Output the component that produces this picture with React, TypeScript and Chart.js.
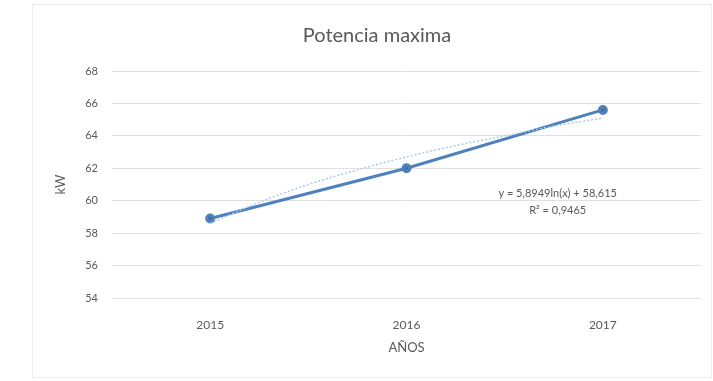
import React, { useEffect, useRef } from "react";
import { Chart, registerables } from "chart.js";

Chart.register(...registerables);

const years = ["2015", "2016", "2017"];
const yearPos = [1, 2, 3];
const potencia = [58.9, 62.0, 65.6];
const trendX = [1, 1.25, 1.5, 1.75, 2, 2.25, 2.5, 2.75, 3];
const trendY = [58.6, 59.9, 61.0, 61.9, 62.7, 63.4, 64.0, 64.6, 65.1];
const equationLines = ["y = 5,8949ln(x) + 58,615", "R² = 0,9465"];
const yMin = 54;
const yMax = 68;
const yStep = 2;

const FONT = "Lato, 'Open Sans', sans-serif";
const TEXT = "#595959";

const frame = {
  id: "frame",
  beforeDraw(chart: any) {
    const ctx = chart.ctx;
    ctx.save();
    ctx.fillStyle = "#ffffff";
    ctx.fillRect(0, 0, chart.width, chart.height);
    ctx.strokeStyle = "#ececec";
    ctx.lineWidth = 1;
    ctx.strokeRect(32.5, 4.5, chart.width - 34, chart.height - 8);
    ctx.restore();
  },
  afterDatasetsDraw(chart: any) {
    const ctx = chart.ctx;
    const xs = chart.scales.x;
    const ys = chart.scales.y;
    ctx.save();
    ctx.fillStyle = TEXT;
    ctx.font = `11px ${FONT}`;
    ctx.textAlign = "center";
    ctx.textBaseline = "middle";
    const cx = xs.getPixelForValue(2.77);
    ctx.fillText(equationLines[0], cx, ys.getPixelForValue(60.45));
    ctx.fillText(equationLines[1], cx, ys.getPixelForValue(59.4));
    ctx.restore();
  },
};

export default function App() {
  const ref = useRef<HTMLCanvasElement>(null);
  useEffect(() => {
    document.body.style.margin = "0";
    const chart = new Chart(ref.current!, {
      type: "line",
      data: {
        datasets: [
          {
            label: "Potencia",
            data: yearPos.map((x, i) => ({ x, y: potencia[i] })),
            borderColor: "#4f81bd",
            backgroundColor: "#46739f",
            borderWidth: 3,
            pointRadius: 3.5,
            pointHoverRadius: 3.5,
            order: 2,
          },
          {
            label: "Tendencia",
            data: trendX.map((x, i) => ({ x, y: trendY[i] })),
            borderColor: "#a9cbe8",
            borderWidth: 1.5,
            borderDash: [2, 2],
            pointRadius: 0,
            cubicInterpolationMode: "monotone",
            order: 1,
          },
        ],
      },
      options: {
        animation: false,
        responsive: false,
        layout: { padding: { left: 53, right: 12, top: 4, bottom: 21 } },
        plugins: {
          legend: { display: false },
          tooltip: { enabled: false },
          title: {
            display: true,
            text: "Potencia maxima",
            color: TEXT,
            font: { family: FONT, size: 20, weight: "normal" },
            padding: { top: 20, bottom: 23 },
          },
        },
        scales: {
          x: {
            type: "linear",
            min: 0.5,
            max: 3.5,
            afterBuildTicks(scale: any) {
              scale.ticks = yearPos.map((v) => ({ value: v }));
            },
            afterFit(scale: any) {
              scale.height = 62;
            },
            grid: { display: false },
            border: { display: false },
            ticks: {
              color: TEXT,
              font: { family: FONT, size: 12 },
              padding: 12,
              callback: (v: any) => years[yearPos.indexOf(Number(v))] ?? "",
            },
            title: {
              display: true,
              text: "AÑOS",
              color: TEXT,
              font: { family: FONT, size: 13 },
              padding: { top: 4 },
            },
          },
          y: {
            min: yMin,
            max: yMax,
            afterFit(scale: any) {
              scale.width = 59;
            },
            ticks: {
              stepSize: yStep,
              color: TEXT,
              font: { family: FONT, size: 11 },
              padding: 14,
            },
            grid: { color: "#e0e0e0", drawTicks: false },
            border: { display: false },
            title: {
              display: true,
              text: "kW",
              color: TEXT,
              font: { family: FONT, size: 13 },
              padding: { top: 0, bottom: 0 },
            },
          },
        },
      },
      plugins: [frame],
    });
    return () => chart.destroy();
  }, []);
  return <canvas ref={ref} width={713} height={381} style={{ display: "block" }} />;
}
